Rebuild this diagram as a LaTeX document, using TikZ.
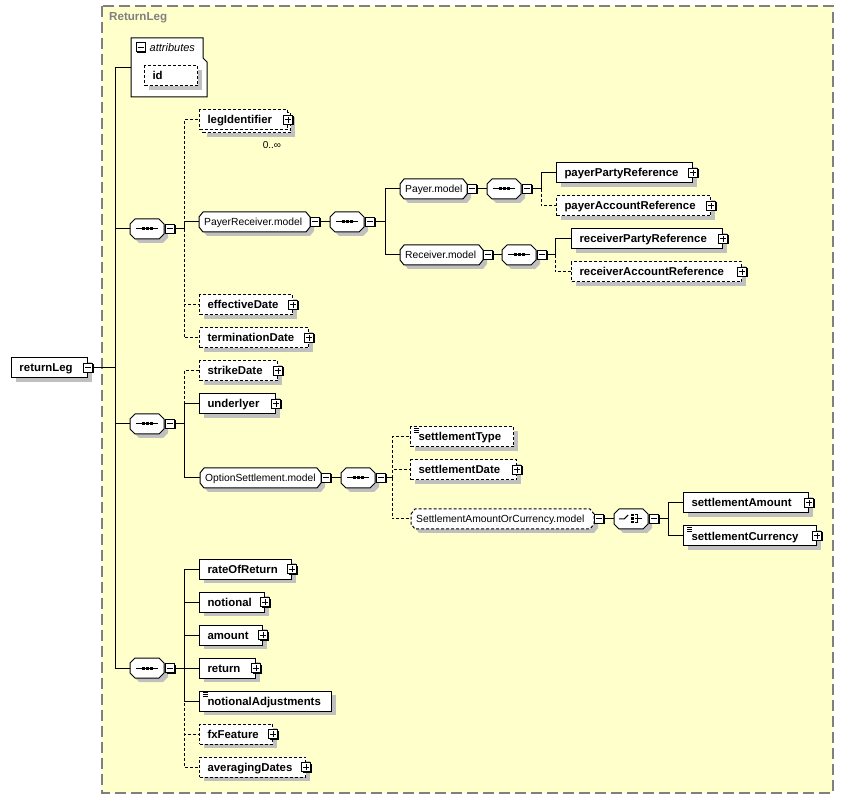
\documentclass[tikz,border=0pt]{standalone}
\usepackage{fontspec}
\setmainfont{Liberation Sans}
\usetikzlibrary{shadows,calc}
\definecolor{bgyellow}{RGB}{255,255,204}
\definecolor{shgray}{RGB}{192,192,192}
\definecolor{framegray}{RGB}{128,128,128}
\newcommand\xelfont{\fontsize{11.4}{13}\selectfont\bfseries}
\newcommand\xmgfont{\fontsize{10.3}{12}\selectfont}
\tikzset{
  ln/.style={line width=1pt},
  opt/.style={dash pattern=on 3pt off 2pt},
  shd/.style={general shadow={fill=shgray, shadow xshift=4pt, shadow yshift=-4pt}},
  el/.style={draw, fill=white, line width=1pt, anchor=west, minimum height=20pt,
    inner xsep=8pt, inner ysep=0pt, align=left, font=\xelfont,
    text height=9.5pt, text depth=1.5pt},
  elem/.style={el, shd},
  mgtext/.style={anchor=west, inner xsep=5pt, inner ysep=0pt, minimum height=20pt,
    align=left, font=\xmgfont, text height=9.5pt, text depth=1.5pt},
  pm/.style={draw, fill=white, line width=1pt, minimum size=9pt, inner sep=0pt,
    general shadow={fill=black, shadow xshift=1pt, shadow yshift=-1pt}},
  plus/.style={pm, path picture={\draw[line width=1pt]
      ($(path picture bounding box.center)+(-3pt,0)$) -- ++(6pt,0)
      ($(path picture bounding box.center)+(0,-3pt)$) -- ++(0,6pt);}},
  minus/.style={pm, path picture={\draw[line width=1pt]
      ($(path picture bounding box.center)+(-3pt,0)$) -- ++(6pt,0);}},
}
\newcommand\mgroup[6]{%
  \pgfmathsetmacro\mgtw{#3-#2-10}%
  \fill[shgray,shift={(4,4)}] ({#2},{#4-5}) -- ({#2+4},{#4-10}) -- ({#3-4},{#4-10}) -- ({#3},{#4-5}) -- ({#3},{#4+5}) -- ({#3-4},{#4+10}) -- ({#2+4},{#4+10}) -- ({#2},{#4+5}) -- cycle;
  \draw[ln,fill=white,#6] ({#2},{#4-5}) -- ({#2+4},{#4-10}) -- ({#3-4},{#4-10}) -- ({#3},{#4-5}) -- ({#3},{#4+5}) -- ({#3-4},{#4+10}) -- ({#2+4},{#4+10}) -- ({#2},{#4+5}) -- cycle;
  \node[mgtext, text width=\mgtw pt] (#1) at ({#2},{#4}) {#5};
}
\newcommand\compo[4]{%
  \fill[shgray,shift={(4,4)}] ({#2},{#3-5}) -- ({#2+5},{#3-10}) -- ({#2+29},{#3-10}) -- ({#2+34},{#3-5}) -- ({#2+34},{#3+5}) -- ({#2+29},{#3+10}) -- ({#2+5},{#3+10}) -- ({#2},{#3+5}) -- cycle;
  \draw[ln,fill=white] ({#2},{#3-5}) -- ({#2+5},{#3-10}) -- ({#2+29},{#3-10}) -- ({#2+34},{#3-5}) -- ({#2+34},{#3+5}) -- ({#2+29},{#3+10}) -- ({#2+5},{#3+10}) -- ({#2},{#3+5}) -- cycle;
  \node[minimum width=34pt, minimum height=20pt, inner sep=0pt, anchor=west] (#1) at ({#2},{#3}) {};
  #4{#1}%
  \node[minus, anchor=west] (#1m) at ($(#1.east)+(1,0)$) {};
}
\newcommand\seqsym[1]{%
  \draw[ln] ($(#1.center)+(-11,0)$) -- ++(22,0);
  \foreach \dx in {-5.5,-1.5,2.5} \fill ($(#1.center)+(\dx,-1.5)$) rectangle ++(3,3);
}
\newcommand\chsym[1]{%
  \draw[ln] ($(#1.center)+(-12,0)$) -- ++(5,0) -- ++(4,-4);
  \foreach \dy in {-5,-1.5,2} \fill ($(#1.center)+(0,\dy)$) rectangle ++(2.5,2.5);
  \draw[ln] ($(#1.center)+(3.5,-4)$) -- ++(3,0) -- ++(0,8) -- ++(-3,0);
  \draw[ln] ($(#1.center)+(3.5,0)$) -- ++(7,0);
}
\newcommand\stico[1]{%
  \foreach \dy in {2,4,6} \draw[line width=0.8pt] ($(#1.north west)+(4,\dy)$) -- ++(4.5,0);
}
\begin{document}
\begin{tikzpicture}[x=1pt,y=-1pt]
\useasboundingbox (0,0) rectangle (844,799);
% frame
\draw[framegray, line width=1.2pt, dash pattern=on 11pt off 5pt, fill=bgyellow] (102,6) rectangle (833,793);
\node[anchor=west, text=framegray, font=\fontsize{11.6}{13}\selectfont\bfseries, inner sep=0pt] (title) at (109,18) {ReturnLeg};

% branch points
\coordinate (b0) at (115,368);
\coordinate (b1) at (184,229);
\coordinate (b2) at (184,424);
\coordinate (b3) at (184,668);
\coordinate (bPR) at (385,222);
\coordinate (bP) at (541,189);
\coordinate (bR) at (555,255);
\coordinate (bOS) at (392,478);
\coordinate (bC) at (668,519);

% root
\node[elem, text width=60pt] (rl) at (11,368) {returnLeg};
\node[minus] (rlm) at (rl.east) {};

% attributes
\draw[ln, fill=white] (131,38) -- (203,38) -- (203,58) -- (207,62) -- (207,97) -- (131,97) -- cycle;
\node[minimum width=76pt, minimum height=59pt, inner sep=0pt, anchor=west] (attr) at (131,67.5) {};
\node[minus] (attrm) at (140.5,47.5) {};
\node[anchor=west, font=\fontsize{11}{13}\selectfont\itshape, inner sep=0pt] (attrt) at (149.5,48) {attributes};
\node[elem, opt, text width=37pt] (id) at (144,76) {id};

% compositors
\compo{s1}{130}{229}{\seqsym}
\compo{s2}{130}{424}{\seqsym}
\compo{s3}{130}{668}{\seqsym}

% seq1 children
\node[elem, opt, text width=72pt] (legidb) at (202,123) {\phantom{legIdentifier}};
\node[el, opt, text width=72pt] (legid) at (199,120) {legIdentifier};
\node[plus] (legidp) at (legid.east) {};
\node[font=\fontsize{10}{12}\selectfont, inner sep=0pt] (legocc) at (272,145) {0..∞};
\mgroup{pr}{199}{310}{222}{PayerReceiver.model}{}
\node[minus, anchor=west] (prm) at (pr.east) {};
\compo{spr}{330}{222}{\seqsym}
\mgroup{pay}{400}{467}{189}{Payer.model}{}
\node[minus, anchor=west] (paym) at (pay.east) {};
\compo{spay}{487}{189}{\seqsym}
\node[elem, text width=120pt] (ppr) at (556,173) {payerPartyReference};
\node[plus] (pprp) at (ppr.east) {};
\node[elem, opt, text width=138pt] (par) at (556,206) {payerAccountReference};
\node[plus] (parp) at (par.east) {};
\mgroup{rec}{400}{483}{255}{Receiver.model}{}
\node[minus, anchor=west] (recm) at (rec.east) {};
\compo{srec}{502}{255}{\seqsym}
\node[elem, text width=135pt] (rpr) at (571,239) {receiverPartyReference};
\node[plus] (rprp) at (rpr.east) {};
\node[elem, opt, text width=154pt] (rar) at (571,272) {receiverAccountReference};
\node[plus] (rarp) at (rar.east) {};
\node[elem, opt, text width=77pt] (eff) at (199,305) {effectiveDate};
\node[plus] (effp) at (eff.east) {};
\node[elem, opt, text width=93pt] (term) at (199,338) {terminationDate};
\node[plus] (termp) at (term.east) {};

% seq2 children
\node[elem, opt, text width=62pt] (strike) at (199,371) {strikeDate};
\node[plus] (strikep) at (strike.east) {};
\node[elem, text width=60pt] (und) at (199,404) {underlyer};
\node[plus] (undp) at (und.east) {};
\mgroup{os}{200}{321}{478}{OptionSettlement.model}{}
\node[minus, anchor=west] (osm) at (os.east) {};
\compo{sos}{341}{478}{\seqsym}
\node[elem, opt, text width=87pt] (stype) at (410,437) {settlementType};
\stico{stype}
\node[elem, opt, text width=90pt] (sdate) at (410,470) {settlementDate};
\node[plus] (sdatep) at (sdate.east) {};
\mgroup{saoc}{411}{594}{519}{SettlementAmountOrCurrency.model}{opt}
\node[minus, anchor=west] (saocm) at (saoc.east) {};
\compo{ch}{614}{519}{\chsym}
\node[elem, text width=109pt] (samt) at (683,503) {settlementAmount};
\node[plus] (samtp) at (samt.east) {};
\node[elem, text width=117pt] (scur) at (683,536) {settlementCurrency};
\stico{scur}
\node[plus] (scurp) at (scur.east) {};

% seq3 children
\node[elem, text width=76pt] (ror) at (199,569) {rateOfReturn};
\node[plus] (rorp) at (ror.east) {};
\node[elem, text width=49pt] (notl) at (199,602) {notional};
\node[plus] (notlp) at (notl.east) {};
\node[elem, text width=47pt] (amt) at (199,635) {amount};
\node[plus] (amtp) at (amt.east) {};
\node[elem, text width=40pt] (ret) at (199,668) {return};
\node[plus] (retp) at (ret.east) {};
\node[elem, text width=116pt] (nadj) at (199,701) {notionalAdjustments};
\stico{nadj}
\node[elem, opt, text width=57pt] (fx) at (199,734) {fxFeature};
\node[plus] (fxp) at (fx.east) {};
\node[elem, opt, text width=90pt] (avg) at (199,767) {averagingDates};
\node[plus] (avgp) at (avg.east) {};

% connectors: trunk
\draw[ln] (rlm.east) -- (b0);
\draw[ln] (b0) |- (attr.west);
\draw[ln] (b0) |- (s1.west);
\draw[ln] (b0) |- (s2.west);
\draw[ln] (b0) |- (s3.west);
% seq1
\draw[ln] (s1m.east) -- (b1);
\draw[ln, opt] (b1) |- (legid.west);
\draw[ln, opt] (b1) |- (eff.west);
\draw[ln, opt] (b1) |- (term.west);
\draw[ln] (b1) |- (pr.west);
\draw[ln] (prm.east) -- (spr.west);
\draw[ln] (sprm.east) -- (bPR);
\draw[ln] (bPR) |- (pay.west);
\draw[ln] (bPR) |- (rec.west);
\draw[ln] (paym.east) -- (spay.west);
\draw[ln] (spaym.east) -- (bP);
\draw[ln, opt] (bP) |- (par.west);
\draw[ln] (bP) |- (ppr.west);
\draw[ln] (recm.east) -- (srec.west);
\draw[ln] (srecm.east) -- (bR);
\draw[ln, opt] (bR) |- (rar.west);
\draw[ln] (bR) |- (rpr.west);
% seq2
\draw[ln] (s2m.east) -- (b2);
\draw[ln, opt] (b2) |- (strike.west);
\draw[ln] (b2) |- (und.west);
\draw[ln] (b2) |- (os.west);
\draw[ln] (osm.east) -- (sos.west);
\draw[ln] (sosm.east) -- (bOS);
\draw[ln, opt] (bOS) |- (stype.west);
\draw[ln, opt] (bOS) |- (sdate.west);
\draw[ln, opt] (bOS) |- (saoc.west);
\draw[ln] (saocm.east) -- (ch.west);
\draw[ln] (chm.east) -- (bC);
\draw[ln] (bC) |- (samt.west);
\draw[ln] (bC) |- (scur.west);
% seq3
\draw[ln] (s3m.east) -- (b3);
\draw[ln, opt] (b3) |- (fx.west);
\draw[ln, opt] (b3) |- (avg.west);
\draw[ln] (b3) |- (ror.west);
\draw[ln] (b3) |- (notl.west);
\draw[ln] (b3) |- (amt.west);
\draw[ln] (b3) |- (ret.west);
\draw[ln] (b3) |- (nadj.west);
\end{tikzpicture}
\end{document}
